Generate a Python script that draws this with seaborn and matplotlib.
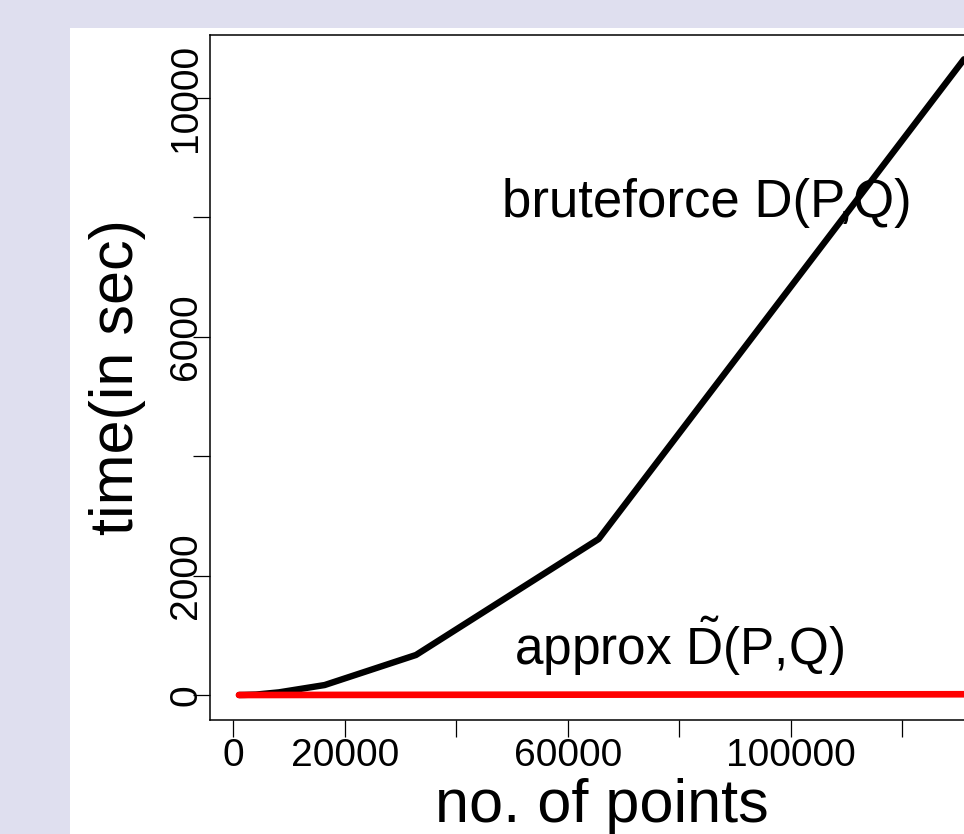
import matplotlib
matplotlib.use("Agg")
import matplotlib.pyplot as plt
import seaborn as sns
import pandas as pd
from matplotlib.patches import Rectangle

# ---- data ----
n_points = [1024, 2048, 4096, 8192, 16384, 32768, 65536, 131072]
brute_time = [0.5, 2, 8, 45, 167, 670, 2611, 10640]
approx_time = [0.1, 0.2, 0.4, 0.8, 1.6, 3.2, 6.5, 13]
x_ticks = [0, 20000, 40000, 60000, 80000, 100000, 120000]
x_tick_labels = ["0", "20000", "", "60000", "", "100000", ""]
y_ticks = [0, 2000, 4000, 6000, 8000, 10000]
y_tick_labels = ["0", "2000", "", "6000", "", "10000"]

sns.set_style("white")
plt.rcParams["font.family"] = ["Liberation Sans", "DejaVu Sans"]
plt.rcParams["mathtext.fontset"] = "custom"
plt.rcParams["mathtext.rm"] = "Liberation Sans"
plt.rcParams["mathtext.it"] = "Liberation Sans:italic"
plt.rcParams["text.color"] = "black"
plt.rcParams["axes.labelcolor"] = "black"

W, H = 964, 834
fig = plt.figure(figsize=(W / 100, H / 100), dpi=100)
fig.patch.set_facecolor("#dfdfef")
fig.patches.append(Rectangle((70 / W, 0), 1, (H - 28) / H, transform=fig.transFigure,
                             facecolor="white", edgecolor="none", zorder=-10))

ax = fig.add_axes([210 / W, 1 - 720 / H, (993 - 210) / W, (720 - 35) / H])
ax.set_zorder(1)
ax.set_facecolor("white")

df_b = pd.DataFrame({"n": n_points, "t": brute_time})
df_a = pd.DataFrame({"n": n_points, "t": approx_time})
sns.lineplot(data=df_b, x="n", y="t", ax=ax, color="black", linewidth=4.6,
             solid_capstyle="round", solid_joinstyle="round", zorder=3)
sns.lineplot(data=df_a, x="n", y="t", ax=ax, color="#ff0000", linewidth=4.8,
             solid_capstyle="round", zorder=4)

ax.set_xlim(-4178, 136274)
ax.set_ylim(-418, 11046)
ax.set_xticks(x_ticks)
ax.set_xticklabels(x_tick_labels)
ax.set_yticks(y_ticks)
ax.set_yticklabels(y_tick_labels, rotation=90, va="center")

for s in ax.spines.values():
    s.set_color("black")
    s.set_linewidth(1.1)
ax.tick_params(axis="both", direction="out", length=12, width=0.9, color="black",
               labelsize=28, labelcolor="black", bottom=True, left=True)
ax.tick_params(axis="x", pad=1)
ax.tick_params(axis="y", pad=-8)

ax.set_xlabel("no. of points", fontsize=44, labelpad=3, color="black")
ax.set_ylabel("time(in sec)", fontsize=44, labelpad=16, color="black")

ax.text(85000, 8000, "bruteforce D(P,Q)", fontsize=38, ha="center", va="baseline",
        color="black", zorder=2)
ax.text(80000, 500, r"approx $\tilde{\mathrm{D}}$(P,Q)", fontsize=37, ha="center",
        va="baseline", color="black", zorder=2)

fig.savefig("out.png", dpi=100, facecolor=fig.get_facecolor())
